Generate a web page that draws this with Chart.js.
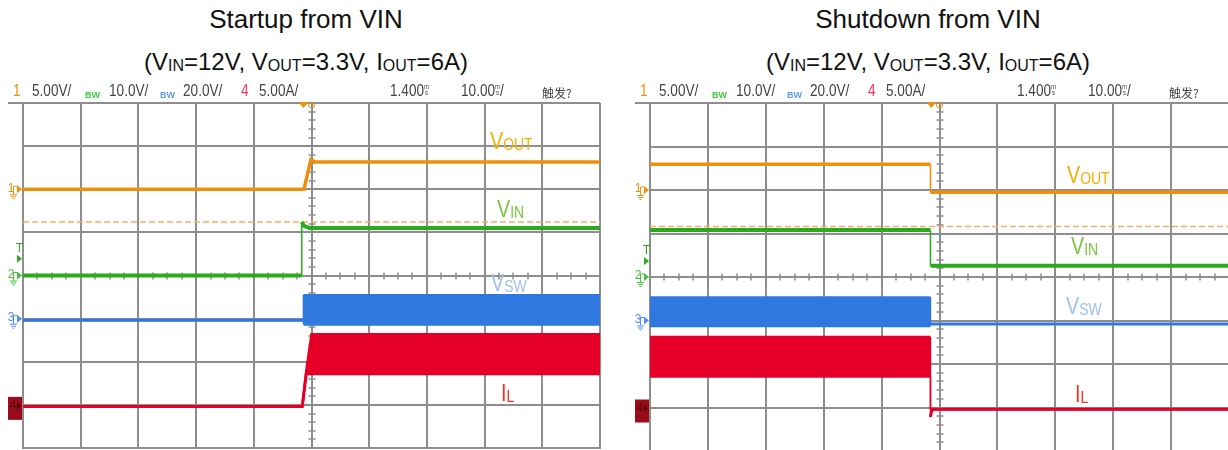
<!DOCTYPE html>
<html><head><meta charset="utf-8">
<script src="https://cdn.jsdelivr.net/npm/chart.js@4.4.1/dist/chart.umd.min.js"></script>
<style>
html,body{margin:0;padding:0;background:#fff;width:1228px;height:450px;overflow:hidden;position:relative;font-family:"Liberation Sans",Arial,sans-serif;}
canvas{position:absolute;}
.title{position:absolute;width:600px;text-align:center;font-size:24px;line-height:24px;color:#111;white-space:nowrap;}
.big{font-size:26px;line-height:26px;}
.title sub{font-size:16px;vertical-align:baseline;position:relative;top:1px;}
.hdr{position:absolute;top:83px;font-size:16px;line-height:16px;color:#444;white-space:nowrap;transform:scaleX(0.85);transform-origin:left center;}
.bw{font-size:9px;font-weight:bold;top:87px;transform:none;}
.unit{display:inline-block;font-size:7px;line-height:6px;vertical-align:1px;text-align:center;}
.cjk{font-family:"Noto Sans CJK SC",sans-serif;font-size:12px;top:85px;transform:none;}
.lbl{position:absolute;font-size:24px;line-height:24px;white-space:nowrap;transform:scaleX(0.82);transform-origin:left center;}
.lbl sub{font-size:17px;vertical-align:baseline;position:relative;top:1px;}
</style></head>
<body>
<div class="title big" style="left:6px;top:6px;">Startup from VIN</div>
<div class="title" style="left:6px;top:50px;">(V<sub>IN</sub>=12V, V<sub>OUT</sub>=3.3V, I<sub>OUT</sub>=6A)</div>
<div class="title big" style="left:628px;top:6px;">Shutdown from VIN</div>
<div class="title" style="left:628px;top:50px;">(V<sub>IN</sub>=12V, V<sub>OUT</sub>=3.3V, I<sub>OUT</sub>=6A)</div>

<canvas id="startup" width="614" height="450" style="left:0;top:0;width:614px;height:450px"></canvas>
<canvas id="shutdown" width="620" height="456" style="left:614px;top:0;width:620px;height:456px"></canvas>

<div class="lbl" style="left:490px;top:129px;color:#f9ae00">V<sub>OUT</sub></div>
<div class="lbl" style="left:497px;top:197px;color:#7cc440">V<sub>IN</sub></div>
<div class="lbl" style="left:491px;top:271px;color:#9dc3ec">V<sub>SW</sub></div>
<div class="lbl" style="left:501px;top:381px;color:#f2321e">I<sub>L</sub></div>

<div class="lbl" style="left:1067px;top:163px;color:#f9ae00">V<sub>OUT</sub></div>
<div class="lbl" style="left:1071px;top:234px;color:#7cc440">V<sub>IN</sub></div>
<div class="lbl" style="left:1066px;top:294px;color:#9dc3ec">V<sub>SW</sub></div>
<div class="lbl" style="left:1075px;top:382px;color:#f2321e">I<sub>L</sub></div>

<script>
// ---- oscilloscope channel settings (per division) ----
const CH_SCALE  = [5, 10, 20, 5];     // CH1 V/div, CH2 V/div, CH3 V/div, CH4 A/div
const CH_OFFSET = [6, 4, 3, 1];       // ground marker, divisions from bottom
const TIME_DIV  = 10;                 // ms/div, trigger at centre

// ---- header texts ----
const hdrTexts  = ['1', '5.00V/', 'BW', '10.0V/', 'BW', '20.0V/', '4', '5.00A/', '1.400', '10.00', '触发?'];

// ---- Startup from VIN (time in ms, values in V / A) ----
const suVoutT = [-50, -1.3, -0.1, 0.6, 50];
const suVout  = [0, 0, 3.45, 3.15, 3.15];
const suVinT  = [-50, -1.7, -1.7, -1.3, -0.3, 50];
const suVin   = [0, 0, 12.4, 11.5, 11.0, 11.0];
const suVswT  = [-50, -1.4, -1.4, 50];
const suVswHi = [-0.8, -0.8, 11.0, 11.0];
const suVswLo = [-0.8, -0.8, -2.6, -2.6];
const suIlT   = [-50, -1.6, -0.9, 0, 50];
const suIlHi  = [-0.2, -0.2, 4.0, 8.2, 8.2];
const suIlLo  = [-0.2, -0.2, 3.6, 3.6, 3.6];
const suRefV  = 12.4;   // CH2 reference (dashed)
const suTrigV = 3.9;    // CH2 trigger level
const suTrigT = -1.4;

// ---- Shutdown from VIN ----
const sdVoutT = [-50, -1.56, -1.56, 50];
const sdVout  = [2.95, 2.95, -0.25, -0.25];
const sdVinT  = [-50, -1.56, -1.56, 50];
const sdVin   = [10.8, 10.8, 2.6, 2.6];
const sdVswT  = [-50, -1.56, -1.56, 50];
const sdVswHi = [10.7, 10.7, -1.6, -1.6];
const sdVswLo = [-2.4, -2.4, -1.6, -1.6];
const sdIlT   = [-50, -1.56, -1.56, -1.4, -1.1, 50];
const sdIlHi  = [8.1, 8.1, -0.2, -0.2, -0.2, -0.2];
const sdIlLo  = [3.6, 3.6, -1.1, -0.5, -0.2, -0.2];
const sdRefV  = 11.6;
const sdTrigV = 3.7;
const sdTrigT = -1.4;

const ORANGE = '#f0900a', GREEN = '#2aab1e', BLUE = '#2f78e0', RED = '#e60028';
const DASH = '#f6ae6a', GRID = '#8e8e8e';

function trace(t, v, ch) {
  return t.map((ti, i) => ({x: ti, y: CH_OFFSET[ch] + v[i] / CH_SCALE[ch]}));
}
function ln(data, color, w, extra) {
  return Object.assign({data, borderColor: color, backgroundColor: color, borderWidth: w,
    pointRadius: 0, tension: 0, fill: false, borderCapStyle: 'butt',
    segment: {borderWidth: c => Math.abs(c.p0.x - c.p1.x) < 0.5 ? 1.5 : w}}, extra || {});
}

const scopeDecor = {
  id: 'scopeDecor',
  beforeDatasetsDraw(chart, args, o) {
    const {ctx, chartArea: a, scales: {x, y}} = chart;
    ctx.save();
    ctx.strokeStyle = GRID; ctx.lineWidth = 1.5;
    const xc = Math.round(x.getPixelForValue(0)), yc = Math.round(y.getPixelForValue(4));
    ctx.beginPath();
    for (let i = 0; i <= 40; i++) {
      const px = Math.round(x.getPixelForValue(-50 + i * TIME_DIV / 4));
      ctx.moveTo(px, yc - 3.5); ctx.lineTo(px, yc + 3.5);
    }
    for (let i = 0; i <= 40; i++) {
      const py = Math.round(y.getPixelForValue(i * 0.2));
      ctx.moveTo(xc - 3.5, py); ctx.lineTo(xc + 3.5, py);
    }
    ctx.stroke();
    ctx.lineWidth = 2;
    ctx.beginPath(); ctx.moveTo(a.left - 15, a.top); ctx.lineTo(a.left, a.top); ctx.stroke();
    ctx.restore();
  },
  afterDraw(chart, args, o) {
    const {ctx, chartArea: a, scales: {x, y}} = chart;
    const L = a.left;
    ctx.save();
    ctx.font = '12px "Liberation Sans"';
    ctx.textBaseline = 'middle'; ctx.textAlign = 'center';
    const mark = (label, color, py) => {
      ctx.fillStyle = color; ctx.strokeStyle = color; ctx.lineWidth = 1;
      ctx.fillText(label, L - 12, py - 1);
      ctx.beginPath(); ctx.moveTo(L - 6, py - 4); ctx.lineTo(L - 1, py); ctx.lineTo(L - 6, py + 4); ctx.closePath(); ctx.fill();
      ctx.beginPath();
      ctx.moveTo(L - 9.5, py - 3); ctx.lineTo(L - 9.5, py + 5);
      ctx.moveTo(L - 9.5, py - 3); ctx.lineTo(L - 6, py - 3);
      ctx.moveTo(L - 13, py + 5.5); ctx.lineTo(L - 6, py + 5.5);
      ctx.moveTo(L - 12, py + 7.5); ctx.lineTo(L - 7, py + 7.5);
      ctx.moveTo(L - 10.5, py + 9.5); ctx.lineTo(L - 8.5, py + 9.5);
      ctx.stroke();
    };
    mark('1', ORANGE, y.getPixelForValue(CH_OFFSET[0]));
    mark('2', '#48c040', y.getPixelForValue(CH_OFFSET[1]));
    mark('3', '#4f8ff0', y.getPixelForValue(CH_OFFSET[2]));
    const ty = y.getPixelForValue(CH_OFFSET[1] + o.trigV / CH_SCALE[1]);
    ctx.fillStyle = '#2aab1e';
    ctx.fillText('T', L - 3.5, ty - 10);
    ctx.beginPath(); ctx.moveTo(L - 6, ty - 4); ctx.lineTo(L - 1, ty); ctx.lineTo(L - 6, ty + 4); ctx.closePath(); ctx.fill();
    const ry = y.getPixelForValue(CH_OFFSET[3]);
    ctx.fillStyle = '#9a0c1a';
    ctx.fillRect(L - 15, ry - 8, 14, 23);
    ctx.fillStyle = '#5a0008';
    ctx.fillText('4', L - 10, ry + 1);
    ctx.beginPath(); ctx.moveTo(L - 6, ry - 3); ctx.lineTo(L - 2, ry + 1); ctx.lineTo(L - 6, ry + 5); ctx.closePath(); ctx.fill();
    const tx = x.getPixelForValue(o.trigT);
    ctx.fillStyle = ORANGE;
    ctx.beginPath(); ctx.moveTo(tx - 5, a.top - 1); ctx.lineTo(tx + 5, a.top - 1); ctx.lineTo(tx, a.top + 5); ctx.closePath(); ctx.fill();
    ctx.strokeStyle = ORANGE; ctx.lineWidth = 1;
    ctx.beginPath(); ctx.arc(x.getPixelForValue(0), a.top + 2, 3, 0, Math.PI * 2); ctx.stroke();
    ctx.restore();
  }
};

function makeChart(id, d, padding) {
  const datasets = [
    ln(trace(d.voutT, d.vout, 0), ORANGE, 3.5),
    ln(trace(d.vinT, d.vin, 1), GREEN, 4),
    ln(trace(d.vswT, d.vswHi, 2), BLUE, 2),
    ln(trace(d.vswT, d.vswLo, 2), BLUE, 3, {fill: '-1'}),
    ln(trace(d.ilT, d.ilHi, 3), RED, 2.5),
    ln(trace(d.ilT, d.ilLo, 3), RED, 3, {fill: '-1'}),
    ln(trace([-50, 50], [d.refV, d.refV], 1), DASH, 1.5, {borderDash: [6, 3]})
  ];
  return new Chart(document.getElementById(id), {
    type: 'line',
    data: {datasets},
    options: {
      responsive: false, animation: false, events: [],
      layout: {padding},
      plugins: {legend: {display: false}, tooltip: {enabled: false}, scopeDecor: {trigV: d.trigV, trigT: d.trigT}},
      scales: {
        x: {type: 'linear', min: -50, max: 50,
            ticks: {display: false, stepSize: TIME_DIV},
            grid: {color: GRID, lineWidth: 2, drawTicks: false},
            border: {display: true, color: GRID, width: 2}},
        y: {type: 'linear', min: 0, max: 8,
            ticks: {display: false, stepSize: 1},
            grid: {color: GRID, lineWidth: 2, drawTicks: false},
            border: {display: true, color: GRID, width: 2}}
      }
    },
    plugins: [scopeDecor]
  });
}

makeChart('startup', {voutT: suVoutT, vout: suVout, vinT: suVinT, vin: suVin, vswT: suVswT, vswHi: suVswHi, vswLo: suVswLo,
  ilT: suIlT, ilHi: suIlHi, ilLo: suIlLo, refV: suRefV, trigV: suTrigV, trigT: suTrigT},
  {left: 23, top: 103, right: 14, bottom: 2});
makeChart('shutdown', {voutT: sdVoutT, vout: sdVout, vinT: sdVinT, vin: sdVin, vswT: sdVswT, vswHi: sdVswHi, vswLo: sdVswLo,
  ilT: sdIlT, ilHi: sdIlHi, ilLo: sdIlLo, refV: sdRefV, trigV: sdTrigV, trigT: sdTrigT},
  {left: 36, top: 103, right: 5, bottom: 5});

// ---- scope status bar texts ----
const hdrX = [13, 32, 85, 109, 160, 183, 241, 259, 390, 461, 542];
const hdrC = [ORANGE, '#444', '#3fcf3f', '#444', '#5d9cf5', '#444', '#ff3355', '#444', '#444', '#444', '#444'];
[0, 627].forEach(off => {
  hdrTexts.forEach((txt, i) => {
    const el = document.createElement('div');
    el.className = 'hdr' + (txt === 'BW' ? ' bw' : '') + (i === 10 ? ' cjk' : '');
    el.style.left = (hdrX[i] + off) + 'px';
    el.style.color = hdrC[i];
    el.textContent = txt;
    if (i === 8 || i === 9) {
      const u = document.createElement('span');
      u.className = 'unit'; u.innerHTML = 'm<br>s';
      el.appendChild(u);
      if (i === 9) el.appendChild(document.createTextNode('/'));
    }
    document.body.appendChild(el);
  });
});
</script>
</body></html>
